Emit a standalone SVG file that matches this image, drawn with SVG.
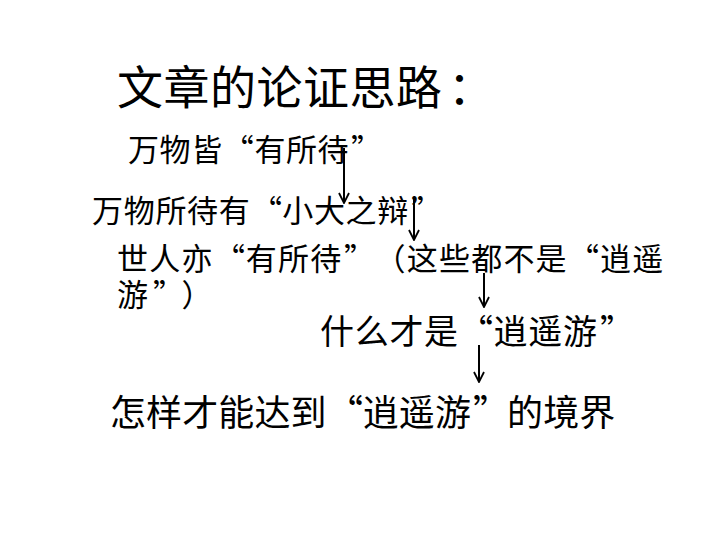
<svg xmlns="http://www.w3.org/2000/svg" width="720" height="540" viewBox="0 0 720 540">
<style>
text{font-family:"Noto Sans CJK SC","Noto Sans CJK TC",sans-serif;fill:#000}
.t{font-size:46px}
.s{font-size:31px}
.m{font-size:34px}
.l{font-size:36px}
.c{stroke:#000;stroke-width:2;fill:none}
</style>
<defs>
<marker id="ah" viewBox="0 0 12 12" refX="11" refY="6" markerWidth="12" markerHeight="12" markerUnits="userSpaceOnUse" orient="auto">
<polyline points="1,1 11,6 1,11" fill="none" stroke="#000" stroke-width="1.8"/>
</marker>
</defs>
<rect width="720" height="540" fill="#fff"/>
<g id="title"><text class="t" x="117 163.5 210 256.5 303 349.5 396 448" y="104">文章的论证思路：</text></g>
<g id="n1"><text class="s" x="128 159.6 191.2 222.8 254.4 286 317.6 351" y="161">万物皆“有所待”</text></g>
<g id="n2"><text class="s" x="92 123.7 155.4 187.1 218.8 251 282.2 313.9 345.6 377.3 411" y="222">万物所待有“小大之辩”</text></g>
<g id="n3"><text class="s"><tspan x="117 149.2 181.4 214 245.8 278 310.2 344 374.6 406.8 439 471.2 503.4 535.6 568 600 632.2" y="270">世人亦“有所待”（这些都不是“逍遥</tspan><tspan x="117 153 181.4" y="306">游”）</tspan></text></g>
<g id="n4"><text class="m" x="320 354.7 389.4 424.1 459 493.5 528.2 562.9 600" y="344">什么才是“逍遥游”</text></g>
<g id="n5"><text class="l" x="110 146.1 182.2 218.3 254.4 290.5 327 362.7 398.8 434.9 473 507.1 543.2 579.3" y="426">怎样才能达到“逍遥游”的境界</text></g>
<g id="connectors">
<line class="c" x1="344" y1="148" x2="344" y2="203" marker-end="url(#ah)"/>
<line class="c" x1="414" y1="197" x2="414" y2="240" marker-end="url(#ah)"/>
<line class="c" x1="484" y1="273" x2="484" y2="307" marker-end="url(#ah)"/>
<line class="c" x1="479" y1="345" x2="479" y2="382" marker-end="url(#ah)"/>
</g>
</svg>
